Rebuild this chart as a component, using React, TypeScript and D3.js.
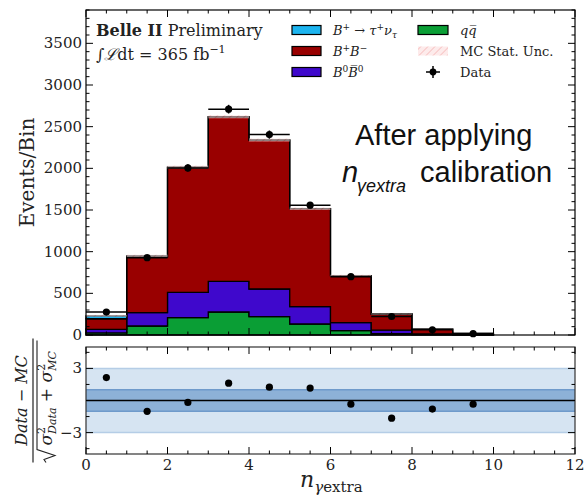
import React from "react";
import * as d3 from "d3";

// ---------- data ----------
const binLow = [0, 1, 2, 3, 4, 5, 6, 7, 8, 9];
const qqValues = [25, 108, 208, 276, 220, 132, 52, 15, 4, 1];
const b0b0Values = [43, 160, 304, 368, 332, 208, 96, 43, 8, 2];
const bpbmValues = [127, 670, 1498, 1974, 1787, 1176, 564, 194, 58, 15];
const signalValues = [35, 12, 5, 2, 1, 0, 0, 0, 0, 0];
const dataValues = [275, 928, 2005, 2710, 2405, 1558, 700, 222, 62, 16];
const mcStatErr = [10, 14, 18, 20, 19, 16, 11, 7, 4, 2];
const pullValues = [2.14, -1.01, -0.18, 1.62, 1.25, 1.16, -0.34, -1.65, -0.8, -0.34];
const xTickValues = [0, 2, 4, 6, 8, 10, 12];
const yTickValues = [0, 500, 1000, 1500, 2000, 2500, 3000, 3500];
const pullTickValues = [-3, 3];

const COLORS = {
  sig: "#1cb4ef",
  bpbm: "#990000",
  b0: "#3f08cc",
  qq: "#0a9e35",
};

const W = 585;
const H = 496;
const L = 86;
const R = 575;
const T1 = 10;
const B1 = 335;
const T2 = 347;
const B2 = 454;

const SERIF = "'DejaVu Serif', serif";
const SANS = "'Liberation Sans', Arial, sans-serif";

export default function App() {
  const x = d3.scaleLinear().domain([0, 12]).range([L, R]);
  const y = d3.scaleLinear().domain([0, 3900]).range([B1, T1]);
  const yp = d3.scaleLinear().domain([-5, 5]).range([B2, T2]);

  const rows = binLow.map((b, i) => ({
    x: b,
    qq: qqValues[i],
    b0: b0b0Values[i],
    bpbm: bpbmValues[i],
    sig: signalValues[i],
  }));
  const rowsExt = [...rows, { ...rows[rows.length - 1], x: binLow[binLow.length - 1] + 1 }];
  const keys = ["qq", "b0", "bpbm", "sig"];
  const series = d3.stack().keys(keys)(rowsExt as any);
  const area = d3
    .area<any>()
    .x((d) => x(d.data.x))
    .y0((d) => y(d[0]))
    .y1((d) => y(d[1]))
    .curve(d3.curveStepAfter);

  const totals = binLow.map(
    (_, i) => qqValues[i] + b0b0Values[i] + bpbmValues[i] + signalValues[i]
  );

  const tickLen = 7;
  const minorLen = 3.5;

  const yMinor = d3.range(0, 3901, 100).filter((v) => v % 500 !== 0);
  const xMinor = d3.range(0, 12.01, 0.5).filter((v) => v % 2 !== 0);
  const pMinor = [-4.5, -1.5, 0, 1.5, 4.5];

  const tk = { stroke: "#000", strokeWidth: 1 };

  const xTicksFor = (top: number, bot: number, key: string) => (
    <g key={key}>
      {xTickValues.map((v) => (
        <g key={"M" + v}>
          <line x1={x(v)} x2={x(v)} y1={bot} y2={bot - tickLen} {...tk} />
          <line x1={x(v)} x2={x(v)} y1={top} y2={top + tickLen} {...tk} />
        </g>
      ))}
      {xMinor.map((v) => (
        <g key={"m" + v}>
          <line x1={x(v)} x2={x(v)} y1={bot} y2={bot - minorLen} {...tk} />
          <line x1={x(v)} x2={x(v)} y1={top} y2={top + minorLen} {...tk} />
        </g>
      ))}
    </g>
  );

  return (
    <div style={{ position: "absolute", left: 0, top: 0 }}>
      <svg width={W} height={H} style={{ display: "block", background: "#fff" }}>
        <defs>
          <pattern
            id="hatch"
            width="5"
            height="5"
            patternUnits="userSpaceOnUse"
            patternTransform="rotate(45)"
          >
            <rect width="5" height="5" fill="#fde6e6" />
            <line x1="0" y1="0" x2="0" y2="5" stroke="#f19c9c" strokeWidth="1.3" />
          </pattern>
        </defs>

        {/* stacked histogram */}
        {series.map((s: any) => (
          <path
            key={s.key}
            d={area(s) as string}
            fill={(COLORS as any)[s.key]}
            stroke="#000"
            strokeWidth={1.3}
            strokeLinejoin="miter"
          />
        ))}

        {/* MC stat uncertainty */}
        {binLow.map((b, i) => (
          <rect
            key={"h" + i}
            x={x(b)}
            width={x(b + 1) - x(b)}
            y={y(totals[i] + mcStatErr[i])}
            height={y(totals[i] - mcStatErr[i]) - y(totals[i] + mcStatErr[i])}
            fill="url(#hatch)"
            opacity={0.55}
          />
        ))}

        {/* data */}
        {binLow.map((b, i) => {
          const cx = x(b + 0.5);
          const cy = y(dataValues[i]);
          const e = Math.sqrt(dataValues[i]);
          return (
            <g key={"d" + i}>
              <line x1={x(b)} x2={x(b + 1)} y1={cy} y2={cy} stroke="#000" strokeWidth={1.5} />
              <line x1={cx} x2={cx} y1={y(dataValues[i] + e)} y2={y(dataValues[i] - e)} stroke="#000" strokeWidth={1.5} />
              <circle cx={cx} cy={cy} r={3.6} fill="#000" />
            </g>
          );
        })}

        {/* main frame and ticks */}
        <rect x={L} y={T1} width={R - L} height={B1 - T1} fill="none" stroke="#000" strokeWidth={1.2} />
        {yTickValues.map((v) => (
          <g key={"y" + v}>
            <line x1={L} x2={L + tickLen} y1={y(v)} y2={y(v)} {...tk} />
            <line x1={R} x2={R - tickLen} y1={y(v)} y2={y(v)} {...tk} />
            <text
              x={L - 4}
              y={y(v)}
              textAnchor="end"
              dominantBaseline="central"
              fontFamily={SERIF}
              fontSize={15}
              fill="#222"
            >
              {v}
            </text>
          </g>
        ))}
        {yMinor.map((v) => (
          <g key={"ym" + v}>
            <line x1={L} x2={L + minorLen} y1={y(v)} y2={y(v)} {...tk} />
            <line x1={R} x2={R - minorLen} y1={y(v)} y2={y(v)} {...tk} />
          </g>
        ))}
        {xTicksFor(T1, B1, "xt1")}

        <text
          transform={`translate(34,${(T1 + B1) / 2}) rotate(-90)`}
          textAnchor="middle"
          fontFamily={SERIF}
          fontSize={20}
          fill="#222"
        >
          Events/Bin
        </text>

        {/* Belle II label */}
        <text x={96} y={36} fontFamily={SERIF} fontSize={16} fill="#222">
          <tspan fontWeight="bold">Belle II</tspan>
          <tspan> Preliminary</tspan>
        </text>
        <text x={96} y={60} fontFamily={SERIF} fontSize={16} fill="#222">
          <tspan>∫</tspan>
          <tspan fontStyle="italic">ℒ</tspan>
          <tspan>dt = 365 fb</tspan>
          <tspan fontSize={11} dy={-7}>−1</tspan>
        </text>

        {/* Legend */}
        {[
          { c: COLORS.sig, yy: 30 },
          { c: COLORS.bpbm, yy: 51 },
          { c: COLORS.b0, yy: 72 },
        ].map((e, i) => (
          <rect key={"lb" + i} x={292} y={e.yy - 4.5} width={29} height={9} fill={e.c} stroke="#000" strokeWidth={1.2} />
        ))}
        <rect x={418} y={25.5} width={30} height={9} fill={COLORS.qq} stroke="#000" strokeWidth={1.2} />
        <rect x={418} y={46.5} width={30} height={9} fill="url(#hatch)" opacity={0.8} />
        <line x1={426} x2={440} y1={72} y2={72} stroke="#000" strokeWidth={1.5} />
        <line x1={433} x2={433} y1={66} y2={78} stroke="#000" strokeWidth={1.5} />
        <circle cx={433} cy={72} r={3.4} fill="#000" />

        <g fontFamily={SERIF} fontSize={13} fill="#222">
          <text x={333} y={35}>
            <tspan fontStyle="italic">B</tspan>
            <tspan fontSize={9} dy={-5}>+</tspan>
            <tspan dy={5}> → </tspan>
            <tspan fontStyle="italic">τ</tspan>
            <tspan fontSize={9} dy={-5}>+</tspan>
            <tspan dy={5} fontStyle="italic">ν</tspan>
            <tspan fontSize={9} dy={3} fontStyle="italic">τ</tspan>
          </text>
          <text x={333} y={56}>
            <tspan fontStyle="italic">B</tspan>
            <tspan fontSize={9} dy={-5}>+</tspan>
            <tspan dy={5} fontStyle="italic">B</tspan>
            <tspan fontSize={9} dy={-5}>−</tspan>
          </text>
          <text x={333} y={77}>
            <tspan fontStyle="italic">B</tspan>
            <tspan fontSize={9} dy={-5}>0</tspan>
            <tspan dy={5} fontStyle="italic">B̅</tspan>
            <tspan fontSize={9} dy={-5}>0</tspan>
          </text>
          <text x={460} y={35}>
            <tspan fontStyle="italic">q</tspan>
            <tspan fontStyle="italic">q̅</tspan>
          </text>
          <text x={460} y={56}>MC Stat. Unc.</text>
          <text x={460} y={77}>Data</text>
        </g>

        {/* annotation */}
        <g fontFamily={SANS} fill="#111">
          <text x={355} y={145} fontSize={29}>After applying</text>
          <text x={342} y={181.5} fontSize={29} fontStyle="italic">n</text>
          <text x={357} y={192} fontSize={18} fontStyle="italic">γextra</text>
          <text x={420} y={181.5} fontSize={29}>calibration</text>
        </g>

        {/* ratio panel */}
        <rect x={L} y={yp(3)} width={R - L} height={yp(-3) - yp(3)} fill="#d6e4f2" />
        <line x1={L} x2={R} y1={yp(3)} y2={yp(3)} stroke="#b5cde6" strokeWidth={1.5} />
        <line x1={L} x2={R} y1={yp(-3)} y2={yp(-3)} stroke="#b5cde6" strokeWidth={1.5} />
        <rect x={L} y={yp(1)} width={R - L} height={yp(-1) - yp(1)} fill="#8db1d7" />
        <line x1={L} x2={R} y1={yp(1)} y2={yp(1)} stroke="#6f9acb" strokeWidth={1.5} />
        <line x1={L} x2={R} y1={yp(-1)} y2={yp(-1)} stroke="#6f9acb" strokeWidth={1.5} />
        <line x1={L} x2={R} y1={yp(0)} y2={yp(0)} stroke="#000" strokeWidth={1.3} />
        {binLow.map((b, i) => (
          <circle key={"p" + i} cx={x(b + 0.5)} cy={yp(pullValues[i])} r={3.6} fill="#000" />
        ))}
        <rect x={L} y={T2} width={R - L} height={B2 - T2} fill="none" stroke="#333" strokeWidth={1.2} />
        {pullTickValues.map((v) => (
          <g key={"pt" + v}>
            <line x1={L} x2={L + tickLen} y1={yp(v)} y2={yp(v)} {...tk} />
            <line x1={R} x2={R - tickLen} y1={yp(v)} y2={yp(v)} {...tk} />
            <text
              x={L - 4}
              y={yp(v)}
              textAnchor="end"
              dominantBaseline="central"
              fontFamily={SERIF}
              fontSize={15}
              fill="#222"
            >
              {v < 0 ? "−" + Math.abs(v) : v}
            </text>
          </g>
        ))}
        {pMinor.map((v) => (
          <g key={"pm" + v}>
            <line x1={L} x2={L + minorLen} y1={yp(v)} y2={yp(v)} {...tk} />
            <line x1={R} x2={R - minorLen} y1={yp(v)} y2={yp(v)} {...tk} />
          </g>
        ))}
        {xTicksFor(T2, B2, "xt2")}
        {xTickValues.map((v) => (
          <text
            key={"xl" + v}
            x={x(v)}
            y={470}
            textAnchor="middle"
            fontFamily={SERIF}
            fontSize={15}
            fill="#222"
          >
            {v}
          </text>
        ))}

        {/* x label */}
        <text x={300} y={487} fontFamily={SERIF} fontSize={22} fill="#222">
          <tspan fontStyle="italic">n</tspan>
          <tspan fontSize={15} dy={5} fontStyle="italic">γ</tspan>
          <tspan fontSize={15}>extra</tspan>
        </text>

        {/* ratio y label */}
        <g transform={`translate(0,${yp(0)}) rotate(-90)`} fontFamily={SERIF} fill="#222">
          <text x={0} y={27} textAnchor="middle" fontSize={16} fontStyle="italic">
            Data − MC
          </text>
          <line x1={-62} x2={62} y1={33} y2={33} stroke="#222" strokeWidth={1.2} />
          <path
            d="M -62 46 L -59 44 L -55 55 L -49 37 L 60 37"
            fill="none"
            stroke="#222"
            strokeWidth={1.1}
          />
          <text x={-45} y={52} fontSize={17} fontStyle="italic">
            <tspan>σ</tspan>
            <tspan fontSize={11} fontStyle="normal" dy={-7}>2</tspan>
            <tspan fontSize={11} dx={-7} dy={11}>Data</tspan>
            <tspan dy={-4} fontStyle="normal"> + </tspan>
            <tspan>σ</tspan>
            <tspan fontSize={11} fontStyle="normal" dy={-7}>2</tspan>
            <tspan fontSize={11} dx={-7} dy={11}>MC</tspan>
          </text>
        </g>
      </svg>
    </div>
  );
}
